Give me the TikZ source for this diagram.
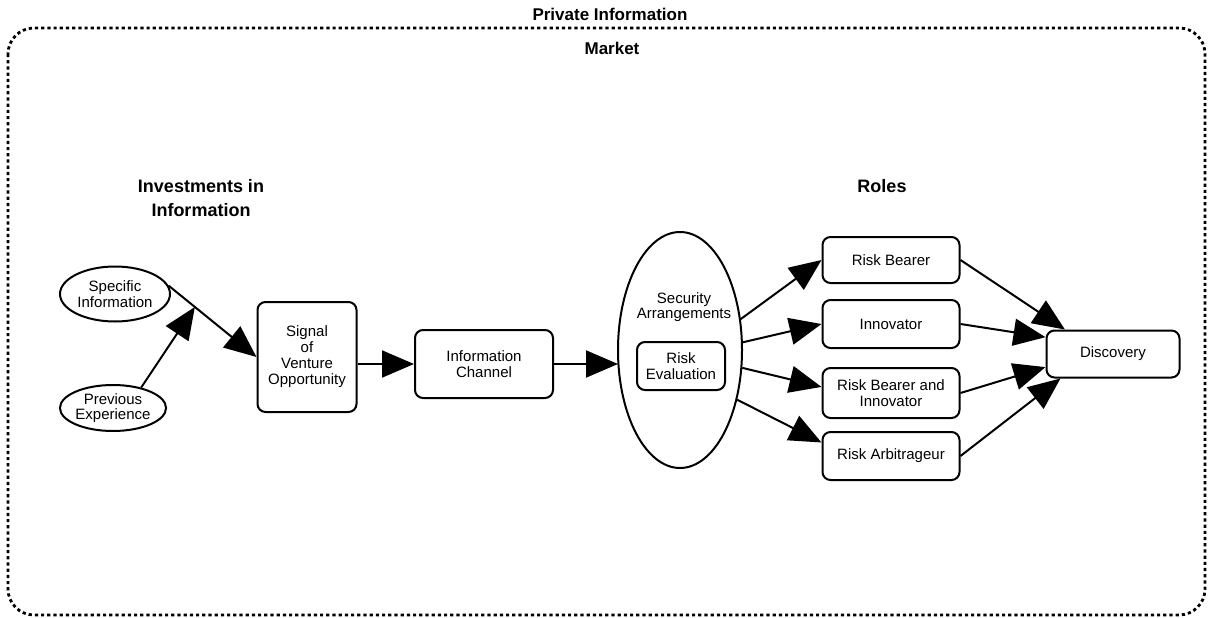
\documentclass[tikz,border=0pt]{standalone}
\usepackage{fontspec}
\setmainfont{Liberation Sans}
\usetikzlibrary{shapes.geometric,arrows.meta,calc}
\begin{document}
\begin{tikzpicture}[x=1pt,y=-1pt,
  lbl/.style={font=\fontsize{15}{15.5}\selectfont,align=center,inner sep=0pt},
  ttl/.style={font=\bfseries\fontsize{17}{22}\selectfont,align=center,inner sep=0pt},
  rbox/.style={draw,line width=2pt,rounded corners=8pt,lbl,minimum width=#1},
  ell/.style={draw,ellipse,line width=2pt,lbl,inner sep=0pt},
  conn/.style={line width=2pt,-{Triangle[length=32pt,width=27pt]}},
  frame/.style={line width=2.8pt,dash pattern=on 3.2pt off 3pt,rounded corners=26pt}]
\useasboundingbox (0,0) rectangle (1211,618);
\draw[frame] (8,28) rectangle (1205,615);
\node[ttl] (priv) at (610,14) {Private Information};
\node[ttl] (mkt) at (612,48) {Market};
\node[ttl,font=\bfseries\fontsize{18}{24}\selectfont] (inv) at (201,198) {Investments in\\Information};
\node[ttl,font=\bfseries\fontsize{18}{24}\selectfont] (roles) at (882,186) {Roles};
% left
\node[ell,minimum width=110pt,minimum height=55pt] (spec) at (115,294) {Specific\\Information};
\node[ell,minimum width=104pt,minimum height=46pt] (prev) at (113,408) {Previous\\Experience};
\node[rbox=99pt,minimum height=110pt,font=\fontsize{15}{16}\selectfont] (sig) at (307,357) {Signal\\of\\Venture\\Opportunity};
\node[rbox=138pt,minimum height=68pt] (chan) at (484,364) {Information\\Channel};
\node[ell,minimum width=124pt,minimum height=236pt] (sec) at (680,350) {};
\node[lbl] (seclbl) at (684,307) {Security\\Arrangements};
\node[rbox=88pt,minimum height=48pt] (reval) at (681,366) {Risk\\Evaluation};
% roles
\node[rbox=137pt,minimum height=46pt] (rb) at (891,260) {Risk Bearer};
\node[rbox=137pt,minimum height=48pt] (inn) at (891,324) {Innovator};
\node[rbox=137pt,minimum height=50pt] (rbi) at (891,393) {Risk Bearer and\\Innovator};
\node[rbox=137pt,minimum height=48pt] (ra) at (891,456) {Risk Arbitrageur};
\node[rbox=133pt,minimum height=47pt] (disc) at (1113,354) {Discovery};
% connectors
\draw[conn] (spec.9) -- (sig.west);
\coordinate (j) at ($(spec.9)!0.3!(sig.west)$);
\draw[conn] (prev.36) -- (j);
\draw[conn] (sig.east |- chan.west) -- (chan.west);
\coordinate (secin) at ($(chan.east -| sec.west)+(1,0)$);
\draw[conn] (chan.east) -- (secin);
\draw[conn] (sec.27) -- (rb.west);
\draw[conn] (sec.7) -- (inn.west);
\draw[conn] (sec.-16) -- (rbi.175);
\draw[conn] (sec.-41) -- (ra.169);
\draw[conn] (rb.east) -- (disc.153);
\draw[conn] (inn.east) -- (disc.166);
\draw[conn] (rbi.east) -- (disc.191);
\draw[conn] (ra.east) -- (disc.205);
\end{tikzpicture}
\end{document}
